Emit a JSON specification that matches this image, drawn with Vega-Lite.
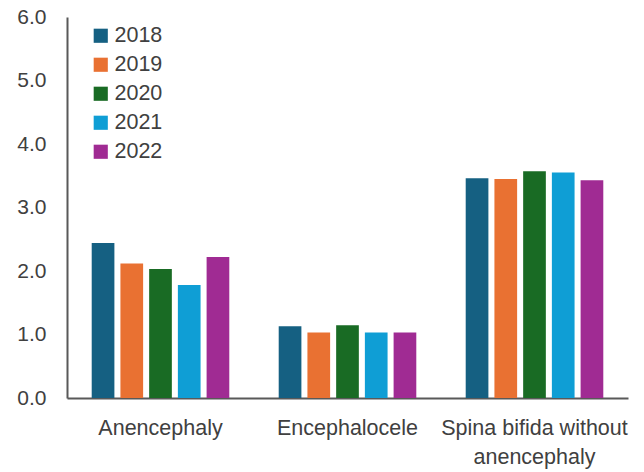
{
  "$schema": "https://vega.github.io/schema/vega-lite/v6.json",
  "width": 561,
  "height": 381,
  "autosize": {"type": "none"},
  "padding": {"left": 67, "top": 17, "right": 16, "bottom": 74},
  "background": "white",
  "config": {
    "view": {"stroke": null},
    "font": "Liberation Sans",
    "text": {"font": "Liberation Sans"}
  },
  "data": {
    "values": [
      {"category": "Anencephaly", "year": "2018", "value": 2.44},
      {"category": "Anencephaly", "year": "2019", "value": 2.12},
      {"category": "Anencephaly", "year": "2020", "value": 2.03},
      {"category": "Anencephaly", "year": "2021", "value": 1.78},
      {"category": "Anencephaly", "year": "2022", "value": 2.22},
      {"category": "Encephalocele", "year": "2018", "value": 1.13},
      {"category": "Encephalocele", "year": "2019", "value": 1.03},
      {"category": "Encephalocele", "year": "2020", "value": 1.145},
      {"category": "Encephalocele", "year": "2021", "value": 1.03},
      {"category": "Encephalocele", "year": "2022", "value": 1.03},
      {"category": "Spina bifida without anencephaly", "year": "2018", "value": 3.46},
      {"category": "Spina bifida without anencephaly", "year": "2019", "value": 3.45},
      {"category": "Spina bifida without anencephaly", "year": "2020", "value": 3.57},
      {"category": "Spina bifida without anencephaly", "year": "2021", "value": 3.55},
      {"category": "Spina bifida without anencephaly", "year": "2022", "value": 3.43}
    ]
  },
  "mark": {"type": "bar"},
  "encoding": {
    "x": {
      "field": "category",
      "type": "nominal",
      "sort": null,
      "scale": {"paddingInner": 0, "paddingOuter": 0},
      "axis": {
        "title": null,
        "labelAngle": 0,
        "ticks": false,
        "domainColor": "#595959",
        "domainWidth": 2,
        "labelFontSize": 21.5,
        "labelColor": "#404040",
        "labelPadding": 19,
        "labelLineHeight": 29,
        "labelBaseline": "top",
        "labelLimit": 0,
        "labelOverlap": false,
        "labelExpr": "datum.label == 'Spina bifida without anencephaly' ? ['Spina bifida without', 'anencephaly'] : datum.label"
      }
    },
    "xOffset": {
      "field": "year",
      "type": "nominal",
      "scale": {"paddingInner": 0.21, "paddingOuter": 0.86}
    },
    "y": {
      "field": "value",
      "type": "quantitative",
      "scale": {"domain": [0, 6]},
      "axis": {
        "title": null,
        "values": [0, 1, 2, 3, 4, 5, 6],
        "format": ".1f",
        "grid": false,
        "ticks": false,
        "domainColor": "#595959",
        "domainWidth": 2,
        "labelFontSize": 21,
        "labelColor": "#404040",
        "labelPadding": 21
      }
    },
    "color": {
      "field": "year",
      "type": "nominal",
      "scale": {
        "domain": ["2018", "2019", "2020", "2021", "2022"],
        "range": ["#156082", "#E97132", "#196B24", "#0F9ED5", "#A02B93"]
      },
      "legend": {
        "title": null,
        "orient": "none",
        "legendX": 23,
        "legendY": 8,
        "padding": 0,
        "symbolType": "square",
        "symbolSize": 200,
        "symbolStrokeWidth": 0,
        "symbolOffset": 0,
        "labelFontSize": 21.5,
        "labelColor": "#404040",
        "labelOffset": 3,
        "rowPadding": 6
      }
    }
  }
}
